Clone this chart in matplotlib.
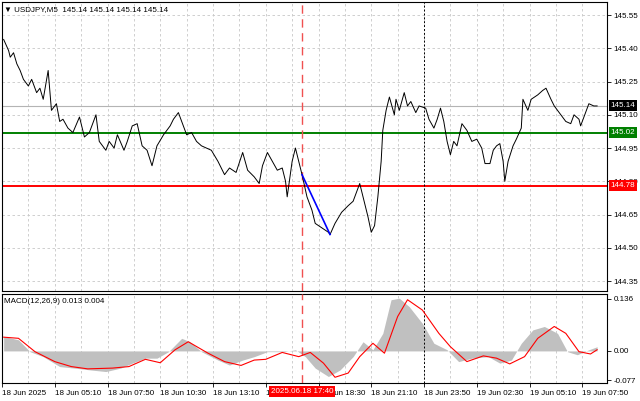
import matplotlib
matplotlib.use("Agg")
import matplotlib.pyplot as plt

# ─── Price series (5-min bars counted from 18 Jun 02:30) ──────────────────────
bars = [1, 4, 5, 7, 9, 11, 13, 16, 18, 21, 23, 25, 28, 30, 33, 35, 37, 40, 43, 47,
        50, 53, 57, 59, 63, 65, 68, 70, 74, 76, 79, 82, 85, 88, 91, 94, 98, 102, 104, 107,
        109, 112, 115, 118, 121, 124, 127, 131, 135, 138, 142, 146, 149, 153, 156, 158, 161, 164, 167, 170,
        172, 173, 176, 178, 180, 182, 185, 188, 190, 194, 198, 199, 202, 206, 210, 213, 215, 217, 219, 222,
        224, 226, 228, 230, 231, 233, 235, 238, 239, 241, 244, 246, 248, 251, 253, 257, 259, 262, 264, 266,
        268, 270, 272, 274, 276, 279, 282, 285, 288, 291, 293, 296, 298, 300, 302, 304, 305, 307, 310, 312,
        315, 316, 319, 321, 325, 328, 330, 333, 335, 339, 342, 345, 347, 350, 351, 354, 356, 359, 361]
price = [145.44, 145.39, 145.36, 145.38, 145.33, 145.30, 145.26, 145.23, 145.26, 145.20, 145.22, 145.17, 145.30, 145.12, 145.15, 145.07, 145.08, 145.04, 145.02, 145.09,
         145.00, 145.02, 145.10, 144.98, 144.94, 144.98, 144.95, 145.01, 144.94, 144.98, 145.05, 145.06, 144.96, 144.94, 144.87, 144.96, 145.01, 145.05, 145.08, 145.11,
         145.07, 145.01, 145.02, 144.98, 144.96, 144.95, 144.94, 144.89, 144.83, 144.86, 144.84, 144.93, 144.85, 144.82, 144.79, 144.87, 144.93, 144.89, 144.85, 144.86,
         144.80, 144.73, 144.89, 144.95, 144.89, 144.83, 144.73, 144.67, 144.61, 144.59, 144.57, 144.56, 144.61, 144.66, 144.69, 144.71, 144.75, 144.79, 144.73, 144.64,
         144.57, 144.60, 144.73, 144.89, 145.03, 145.12, 145.18, 145.10, 145.17, 145.12, 145.20, 145.14, 145.16, 145.11, 145.14, 145.13, 145.08, 145.04, 145.08, 145.13,
         145.07, 144.98, 144.92, 144.98, 144.96, 145.06, 145.03, 144.98, 144.99, 144.95, 144.88, 144.88, 144.94, 144.96, 144.97, 144.89, 144.80, 144.89, 144.96, 144.99,
         145.04, 145.17, 145.12, 145.17, 145.19, 145.21, 145.22, 145.17, 145.14, 145.10, 145.07, 145.06, 145.10, 145.08, 145.05, 145.11, 145.15, 145.14, 145.14]

# blue trend segment
trend_bars = [182, 199]
trend_price = [144.83, 144.56]

# ─── MACD(12,26,9) ────────────────────────────────────────────────────────────
hist_bars = [1, 10, 17, 25, 35, 44, 54, 63, 72, 79, 87, 94, 101, 109, 114, 121, 131, 138, 146, 153,
             161, 171, 178, 184, 190, 198, 205, 213, 219, 225, 231, 236, 241, 247, 255, 262, 270, 277, 285, 295,
             302, 309, 315, 322, 329, 337, 343, 349, 356, 361]
hist_vals = [0.038, 0.029, -0.002, -0.015, -0.041, -0.045, -0.050, -0.054, -0.045, -0.032, -0.019, -0.019, -0.002, 0.033, 0.024, -0.002, -0.024, -0.037, -0.024, -0.015,
             -0.002, -0.002, 0.003, -0.015, -0.045, -0.067, -0.050, -0.015, 0.024, 0.003, 0.046, 0.134, 0.138, 0.116, 0.072, 0.020, 0.003, -0.028, -0.019, -0.015,
             -0.032, -0.024, 0.020, 0.055, 0.064, 0.046, -0.002, -0.010, 0.003, 0.011]
sig_bars = [1, 10, 20, 32, 42, 52, 67, 77, 87, 96, 105, 113, 125, 135, 145, 153, 160, 170, 180, 187,
            195, 202, 210, 217, 225, 232, 240, 246, 255, 265, 272, 282, 292, 300, 308, 317, 325, 335, 342, 350,
            357, 361]
sig_vals = [0.036, 0.033, -0.002, -0.028, -0.041, -0.047, -0.045, -0.041, -0.022, -0.031, 0.003, 0.024, -0.006, -0.028, -0.038, -0.024, -0.022, -0.004, -0.015, -0.004,
            -0.032, -0.069, -0.058, -0.015, 0.020, -0.006, 0.090, 0.134, 0.107, 0.046, 0.011, -0.028, -0.013, -0.019, -0.034, -0.015, 0.033, 0.064, 0.046, -0.002,
            -0.008, 0.003]

tick_bars = [0, 32, 64, 96, 128, 160, 192, 224, 256, 288, 320, 352]
tick_labels = ["18 Jun 2025", "18 Jun 05:10", "18 Jun 07:50", "18 Jun 10:30", "18 Jun 13:10", "18 Jun 15:50",
               "18 Jun 18:30", "18 Jun 21:10", "18 Jun 23:50", "19 Jun 02:30", "19 Jun 05:10", "19 Jun 07:50"]
price_ticks = [144.35, 144.50, 144.65, 144.80, 144.95, 145.10, 145.25, 145.40, 145.55]
macd_ticks = [-0.077, 0.0, 0.136]

last_price = 145.14
support = 145.02
resistance = 144.78
event_bar = 182
session_bar = 256

plt.rcParams["font.family"] = "Liberation Sans"
fs = 5.8

fig = plt.figure(figsize=(6.4, 4.01), dpi=100)
ax = fig.add_axes([2 / 640, 1 - 291 / 401, 605 / 640, 289 / 401])
ax2 = fig.add_axes([2 / 640, 1 - 383 / 401, 605 / 640, 89 / 401], sharex=ax)

xmax = 367
for a in (ax, ax2):
    a.set_xlim(0, xmax)
    a.yaxis.tick_right()
    a.tick_params(axis="both", length=3, width=0.6, labelsize=fs, pad=1.5)
    for s in a.spines.values():
        s.set_linewidth(0.8)
    for b in range(0, xmax, 16):
        a.axvline(b, color="#c8c8c8", linestyle=(0, (3, 3)), linewidth=0.6, zorder=0)
    a.axvline(event_bar, color="#f05050", linestyle=(0, (6, 4)), linewidth=1.0, zorder=3)
    a.axvline(session_bar, color="black", linestyle=(0, (2, 2)), linewidth=0.7, zorder=3)

# main panel
ax.set_ylim(144.305, 145.609)
ax.set_yticks(price_ticks)
ax.set_yticklabels([f"{v:.2f}" for v in price_ticks])
for v in price_ticks:
    ax.axhline(v, color="#c8c8c8", linestyle=(0, (3, 3)), linewidth=0.6, zorder=0)
ax.axhline(last_price, color="#b4b4b4", linewidth=0.8, zorder=1)
ax.axhline(support, color="#008000", linewidth=1.4, zorder=2)
ax.axhline(resistance, color="#ff0000", linewidth=1.4, zorder=2)
ax.plot(bars, price, color="black", linewidth=0.7, zorder=4)
ax.plot(trend_bars, trend_price, color="#0000ff", linewidth=1.2, zorder=5)
ax.tick_params(axis="x", labelbottom=False, length=0)

for v, bg in [(last_price, "black"), (support, "#008000"), (resistance, "#ff0000")]:
    ax.text(1.006, v, f"{v:.2f}", transform=ax.get_yaxis_transform(), va="center", ha="left",
            color="white", fontsize=fs, zorder=10,
            bbox=dict(boxstyle="square,pad=0.25", fc=bg, ec="none"))

ax.text(0.004, 0.985, "▼ USDJPY,M5  145.14 145.14 145.14 145.14", transform=ax.transAxes,
        va="top", ha="left", fontsize=fs, family=["Liberation Sans", "DejaVu Sans"])

# MACD panel
ax2.set_ylim(-0.084, 0.149)
ax2.set_yticks(macd_ticks)
ax2.set_yticklabels(["-0.077", "0.00", "0.136"])
ax2.fill_between(hist_bars, 0, hist_vals, color="#c0c0c0", linewidth=0, zorder=2)
ax2.plot(sig_bars, sig_vals, color="#ff0000", linewidth=0.8, zorder=4)
ax2.text(0.004, 0.96, "MACD(12,26,9) 0.013 0.004", transform=ax2.transAxes, va="top", ha="left", fontsize=fs)

ax2.set_xticks(tick_bars)
ax2.set_xticklabels(tick_labels, ha="left")
ax2.tick_params(axis="x", length=3, pad=2)
ax2.text(event_bar, -0.06, "2025.06.18 17:40", transform=ax2.get_xaxis_transform(), ha="center", va="top",
         color="white", fontsize=fs, zorder=10, clip_on=False,
         bbox=dict(boxstyle="square,pad=0.25", fc="#ff0000", ec="none"))

fig.savefig("out.png", dpi=100)
